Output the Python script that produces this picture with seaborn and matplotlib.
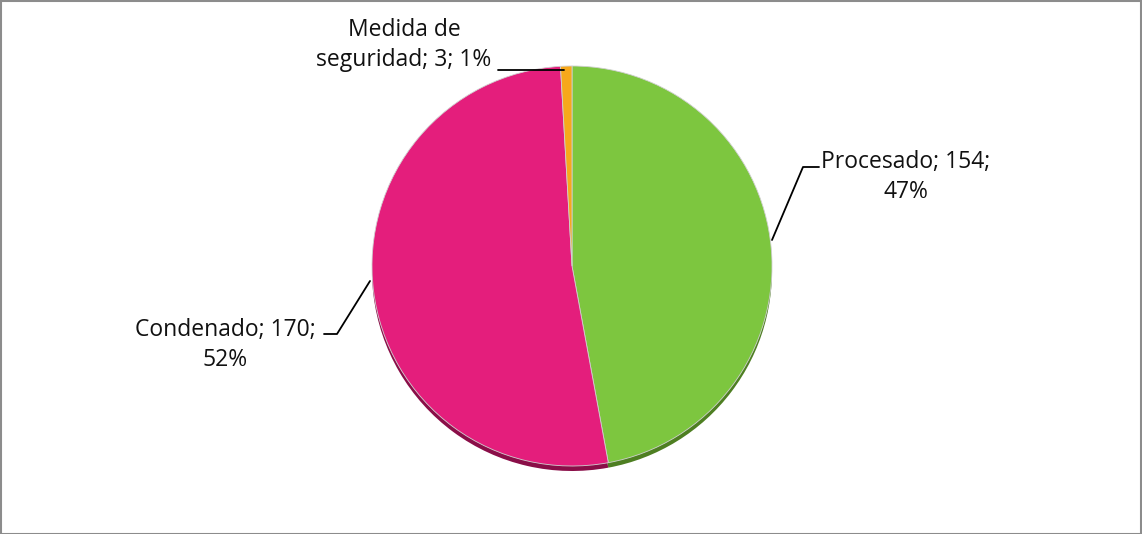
import matplotlib
matplotlib.use("Agg")
import matplotlib.pyplot as plt
import seaborn as sns
from matplotlib.patches import Rectangle

categories = ["Procesado", "Condenado", "Medida de seguridad"]
values = [154, 170, 3]
percent_labels = ["47%", "52%", "1%"]
colors = ["#7DC63F", "#E41E7C", "#F7A81B"]
shadow_colors = ["#4E7F22", "#8A0E48", "#A86E0A"]

sns.set_theme(style="white")
plt.rcParams["font.family"] = ["Open Sans", "DejaVu Sans"]

W, H = 1142, 534
fig = plt.figure(figsize=(W / 100, H / 100), dpi=100)
ax = fig.add_axes([0, 0, 1, 1])

cx, cy, r = 572, H - 266, 200

# 3D-ish shadow rim
ax.pie(values, colors=shadow_colors, startangle=90, counterclock=False,
       center=(cx, cy - 5), radius=r, frame=True,
       wedgeprops=dict(linewidth=0))
ax.pie(values, colors=colors, startangle=90, counterclock=False,
       center=(cx, cy), radius=r, frame=True,
       wedgeprops=dict(linewidth=0.6, edgecolor="#d0d0d0"))
ax.set_xlim(0, W)
ax.set_ylim(0, H)
ax.set_axis_off()

labels = [
    f"{categories[0]}; {values[0]};\n{percent_labels[0]}",
    f"{categories[1]}; {values[1]};\n{percent_labels[1]}",
    f"Medida de\nseguridad; {values[2]}; {percent_labels[2]}",
]

fs = 16.5
ls = 1.3
ax.text(906, H - 177, labels[0], ha="center", va="center", fontsize=fs,
        color="#111111", linespacing=ls)
ax.text(225, H - 345, labels[1], ha="center", va="center", fontsize=fs,
        color="#111111", linespacing=ls)
ax.text(404, H - 45, labels[2], ha="center", va="center", fontsize=fs,
        color="#111111", linespacing=ls)

# leader lines
ax.plot([819, 803, 772], [H - 167, H - 167, H - 240], color="black", lw=1.3)
ax.plot([324, 337, 370], [H - 334, H - 334, H - 281], color="black", lw=1.3)
ax.plot([498, 564], [H - 70, H - 70], color="black", lw=1.3)

fig.patches.append(Rectangle((0.5 / W, 0.5 / H), 1 - 1.5 / W, 1 - 1.5 / H,
                             transform=fig.transFigure, fill=False,
                             edgecolor="#8c8c8c", lw=1.5))

fig.savefig("out.png", dpi=100, facecolor="white")
